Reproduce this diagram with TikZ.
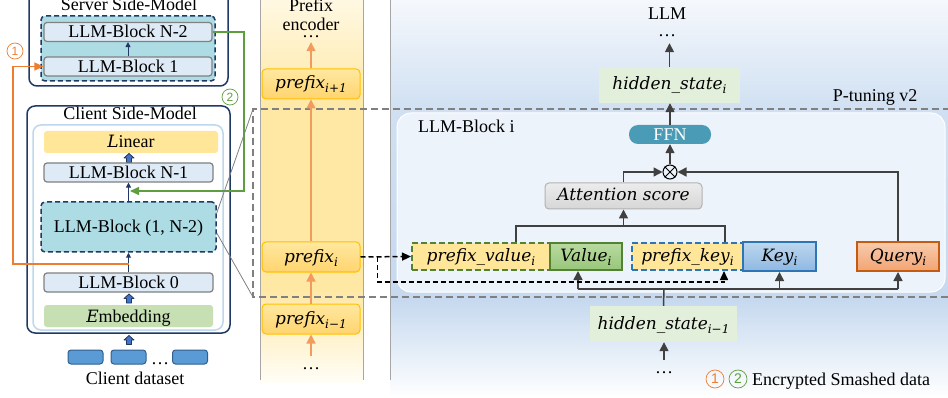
\RequirePackage{fix-cm}
\documentclass[tikz,border=0pt]{standalone}
\usepackage{fontspec}
\setmainfont{Liberation Serif}
\newfontfamily\numfont{Liberation Sans}
\newfontfamily\mitfont{DejaVu Serif}
\newcommand{\mv}[2]{{\mitfont\itshape\fontsize{17}{18}\selectfont #1\raisebox{-4pt}{\fontsize{12}{12}\selectfont #2}}}
\usetikzlibrary{arrows.meta}
\definecolor{navy}{HTML}{1F3864}
\definecolor{blkF}{HTML}{DEEBF7}
\definecolor{blkD}{HTML}{808080}
\definecolor{tealF}{HTML}{ADDCE4}
\definecolor{linF}{HTML}{FFE699}
\definecolor{embF}{HTML}{C6E0B4}
\definecolor{dataF}{HTML}{5B9BD5}
\definecolor{dataD}{HTML}{2F5F8F}
\definecolor{fatF}{HTML}{4472C4}
\definecolor{innerD}{HTML}{BDD7EE}
\definecolor{orng}{HTML}{ED7D31}
\definecolor{orlt}{HTML}{F29B5E}
\definecolor{grn}{HTML}{5E9E3F}
\definecolor{dk}{HTML}{404040}
\definecolor{pxD}{HTML}{FFC000}
\definecolor{pxT}{HTML}{FFE8A0}
\definecolor{pxB}{HTML}{FFD46E}
\definecolor{bandTop}{HTML}{FFF8E2}
\definecolor{bandMid}{HTML}{FFE8A4}
\definecolor{bandBot}{HTML}{FFFDF6}
\definecolor{rTop}{HTML}{F5F8FC}
\definecolor{rMid}{HTML}{D0E0F2}
\definecolor{rMid2}{HTML}{C6D9EF}
\definecolor{blkIF}{HTML}{EDF3FA}
\definecolor{hidF}{HTML}{E2EFDA}
\definecolor{ffnF}{HTML}{4A9BB5}
\definecolor{vgD}{HTML}{548235}
\definecolor{vgT}{HTML}{B8DAA0}
\definecolor{vgB}{HTML}{98C77A}
\definecolor{kbD}{HTML}{2E75B6}
\definecolor{kbT}{HTML}{BDD7EE}
\definecolor{kbB}{HTML}{8FB8E2}
\definecolor{qD}{HTML}{C55A11}
\definecolor{qT}{HTML}{F8CBAD}
\definecolor{qB}{HTML}{F2A472}
\definecolor{gline}{HTML}{A6A6A6}
\tikzset{
  fatarr/.pic={\draw[draw=navy, fill=fatF, line width=0.8pt, line join=round]
     (-5,0) -- (0,-4.5) -- (5,0) -- (2.5,0) -- (2.5,4.5) -- (-2.5,4.5) -- (-2.5,0) -- cycle;},
  tx/.style={text height=13pt, text depth=1pt},
  mx/.style={text height=12pt, text depth=2pt},
  outerbox/.style={draw=navy, line width=1.5pt, rounded corners=8pt},
  blk/.style={draw=blkD, line width=1.2pt, fill=blkF, rounded corners=3pt, minimum width=168pt, minimum height=19pt, inner sep=0pt, tx},
  tealbox/.style={draw=navy, dash pattern=on 5pt off 3pt, line width=1.5pt, fill=tealF, rounded corners=4pt, inner sep=0pt, tx},
  flatbox/.style={rounded corners=3pt, minimum width=169pt, minimum height=22pt, inner sep=0pt, tx},
  databox/.style={draw=dataD, fill=dataF, line width=1pt, rounded corners=3pt, minimum width=35pt, minimum height=14pt, inner sep=0pt},
  navyarr/.style={draw=navy, line width=1pt, -{Triangle[length=5pt,width=5pt]}},
  orarrow/.style={draw=orng, line width=1.5pt, -{Triangle[length=9pt,width=8pt]}},
  grarrow/.style={draw=grn, line width=1.5pt, -{Triangle[length=9pt,width=8pt]}},
  circnum/.style={circle, draw=#1, text=#1, line width=0.7pt, minimum size=16pt, inner sep=0pt, font=\numfont\fontsize{12}{12}\selectfont},
  pbox/.style={draw=pxD, line width=1pt, top color=pxT, bottom color=pxB, rounded corners=4pt, minimum width=98pt, minimum height=30pt, inner sep=0pt, mx},
  pxarr/.style={draw=orlt, line width=1.3pt, -{Triangle[length=9pt,width=9pt]}},
  dotsn/.style={inner sep=0pt, text height=13pt, text depth=6pt, anchor=base},
  bandline/.style={draw=gline, line width=1pt},
  ptdash/.style={draw=gray, line width=1.3pt, dash pattern=on 7pt off 4pt},
  callout/.style={draw=gray, line width=0.8pt},
  darr/.style={draw=dk, line width=1.5pt, -{Triangle[length=9pt,width=9pt]}},
  dline/.style={draw=dk, line width=1.5pt},
  bdash/.style={draw=black, line width=1.5pt, dash pattern=on 5pt off 3pt},
  hidbox/.style={fill=hidF, minimum width=141pt, minimum height=36pt, inner sep=0pt, mx},
  kvbox/.style={line width=2pt, minimum height=27pt, inner sep=0pt, mx},
}
\begin{document}
\begin{tikzpicture}[x=1pt, y=-1pt, font=\fontsize{18}{21}\selectfont]
\useasboundingbox (0,0) rectangle (948,398);

% ---------- right panel background ----------
\shade[top color=rTop, bottom color=rMid] (390,0) rectangle (948,110);
\shade[top color=rMid, bottom color=rMid2] (390,110) rectangle (948,300);
\shade[top color=rMid2, bottom color=white] (390,300) rectangle (948,397);
\draw[bandline] (390,0) -- (390,380);

% ---------- prefix band ----------
\shade[top color=bandTop, bottom color=bandMid] (260,0) rectangle (363,110);
\fill[bandMid] (260,110) rectangle (363,290);
\shade[top color=bandMid, bottom color=bandBot] (260,290) rectangle (363,382);
\draw[bandline] (260,0) -- (260,380);
\draw[bandline] (363,0) -- (363,380);

% ---------- P-tuning dashed region ----------
\coordinate (dTL) at (253,109);
\coordinate (dBL) at (253,297);
\draw[ptdash] (950,109) -- (dTL) -- (dBL) -- (950,297);
\node[anchor=base, inner sep=0pt] (ptT) at (875,102) {P-tuning v2};

% LLM-Block i container
\draw[draw=white, line width=1pt, fill=blkIF, rounded corners=14pt] (397,113) rectangle (945,292);
\node[anchor=base west, inner sep=0pt] (blkIT) at (418,133) {LLM-Block i};

% ---------- left: server ----------
\draw[outerbox] (29,-12) rectangle (228,86);
\node[anchor=base, inner sep=0pt] (srvT) at (129,11) {Server Side-Model};
\node[tealbox, minimum width=174pt, minimum height=65pt] (srvD) at (128,48.5) {};
\node[blk] (bN2) at (128,32) {LLM-Block N-2};
\node[blk] (b1) at (128,66.5) {LLM-Block 1};
\draw[navyarr] (b1) -- (bN2);

% ---------- left: client ----------
\draw[outerbox] (27,106) rectangle (230,333);
\node[anchor=base, inner sep=0pt] (cliT) at (130,120) {Client Side-Model};
\draw[draw=innerD, line width=1.5pt, fill=white, rounded corners=8pt] (33,125) rectangle (223,330);
\node[flatbox, fill=linF, minimum width=174pt] (lin) at (131,142) {{\mitfont\itshape\fontsize{17}{18}\selectfont L}inear};
\pic at (129,158) {fatarr};
\node[blk, minimum width=169pt] (bN1) at (128.5,172.5) {LLM-Block N-1};
\node[tealbox, minimum width=175pt, minimum height=50pt] (b1N2) at (128.5,227) {LLM-Block (1, N-2)};
\node[blk, minimum width=169pt] (b0) at (128.5,282.5) {LLM-Block 0};
\pic at (129,298.5) {fatarr};
\node[flatbox, fill=embF] (emb) at (128.5,316) {{\mitfont\itshape\fontsize{17}{18}\selectfont E}mbedding};
\pic at (129,340) {fatarr};
\draw[navyarr] (b1N2) -- (bN1);
\draw[navyarr] (b0) -- (b1N2);

\node[databox] (d1) at (85.5,357) {};
\node[databox] (d2) at (128.5,357) {};
\node[databox] (d3) at (190,357) {};
\node[dotsn] (ddots) at (160,364) {\dots};
\node[anchor=base, inner sep=0pt] (cds) at (135,384) {Client dataset};

% orange path 1
\coordinate (oS) at (128.5,264);
\coordinate (oL) at (13,264);
\draw[orarrow] (oS) -- (oL) |- (b1.west);
\node[circnum=orng] (c1) at (15,51) {1};

% green path 2
\coordinate (gR) at (244,32);
\coordinate (gE) at (130,191);
\draw[grarrow] (bN2.east) -- (gR) |- (gE);
\node[circnum=grn] (c2) at (230,97) {2};

% callout lines
\draw[callout] ([yshift=14pt]b1N2.east) -- (dTL);
\draw[callout] ([yshift=-6pt]b1N2.east) -- (dBL);

% ---------- prefix encoder ----------
\node[anchor=base, inner sep=0pt] (pT1) at (311,12) {Prefix};
\node[anchor=base, inner sep=0pt] (pT2) at (311,31) {encoder};
\node[dotsn, text height=3pt, text depth=4pt] (pdots) at (311,38) {\dots};
\node[pbox] (p1) at (311,84) {\mv{prefix}{i+1}};
\node[pbox] (p0) at (311,257) {\mv{prefix}{i}};
\node[pbox] (pm) at (311,319) {\mv{prefix}{i−1}};
\node[dotsn] (pbd) at (311,369) {\dots};
\draw[pxarr] (p1.north) -- (pdots.south);
\draw[pxarr] (p0) -- (p1);
\draw[pxarr] (pm) -- (p0);
\draw[pxarr] (pbd.north) -- (pm.south);

% ---------- right: LLM block ----------
\node[anchor=base, inner sep=0pt] (llmT) at (667,20) {LLM};
\node[dotsn, text height=4pt] (ldots) at (667,37) {\dots};
\node[hidbox] (hI) at (669.5,85) {\mv{hidden\_state}{i}};
\draw[darr] (hI.north) -- (hI.north |- ldots.south);
\node[fill=ffnF, text=white, rounded corners=9pt, minimum width=82pt, minimum height=19pt, inner sep=0pt, tx] (ffn) at (670,134.5) {FFN};
\draw[darr] (ffn.north) -- (ffn.north |- hI.south);
\node[circle, draw=black, line width=1pt, minimum size=14pt, inner sep=0pt] (ot) at (670,172) {};
\draw[line width=1pt] (ot.north west) -- (ot.south east) (ot.north east) -- (ot.south west);
\draw[darr] (ot.north) -- (ot.north |- ffn.south);

\node[draw=gray!60, line width=1pt, top color=gray!15, bottom color=gray!32, rounded corners=4pt, minimum width=157pt, minimum height=26pt, inner sep=0pt, mx] (attn) at (623.5,196) {\mv{Attention score}{}};

\node[kvbox, fill=linF, draw=vgD, dash pattern=on 6pt off 3pt, minimum width=138pt] (pv) at (481,256.5) {\mv{prefix\_value}{i}};
\node[kvbox, draw=vgD, top color=vgT, bottom color=vgB, minimum width=72pt] (val) at (586,256.5) {\mv{Value}{i}};
\node[kvbox, fill=linF, draw=kbD, dash pattern=on 6pt off 3pt, minimum width=111pt] (pk) at (687.5,256.5) {\mv{prefix\_key}{i}};
\node[kvbox, draw=kbD, top color=kbT, bottom color=kbB, minimum width=73pt, minimum height=29pt] (key) at (779.5,256.5) {\mv{Key}{i}};
\node[kvbox, draw=qD, top color=qT, bottom color=qB, minimum width=82pt, minimum height=29pt] (qry) at (898,256.5) {\mv{Query}{i}};

\draw[darr] (attn.north) |- (ot.west);
\draw[darr] (qry.north) |- (ot.east);

% attention inputs
\coordinate (aL) at ([xshift=35pt]pv.north);
\coordinate (aR) at ([xshift=37.5pt]pk.north);
\coordinate (aj) at (623.5,226);
\draw[dline] (aL) |- (aj) -| (aR);
\draw[darr] (aj) -- (attn.south);

% hidden state i-1
\node[hidbox, minimum width=147pt] (h0) at (663.5,324) {\mv{hidden\_state}{i−1}};
\node[dotsn] (bdots) at (664,373) {\dots};
\draw[darr] (bdots.north) -- (bdots.north |- h0.south);
\coordinate (hj) at (664,289);
\coordinate (vB) at ([xshift=-8pt]val.south);
\draw[dline] (h0.north) -- (hj);
\draw[dline] (vB |- hj) -- (qry.south |- hj);
\draw[darr] (vB |- hj) -- (vB);
\draw[darr] (key.south |- hj) -- (key.south);
\draw[darr] (qry.south |- hj) -- (qry.south);

% dashed prefix feed
\draw[bdash, -{Triangle[length=9pt,width=8pt]}] (p0.east) -- (pv.west);
\coordinate (dj) at ([xshift=17pt]p0.east);
\coordinate (dB) at ([yshift=-25pt]dj);
\coordinate (pkB) at ([xshift=36.5pt]pk.south);
\draw[bdash, -{Triangle[length=9pt,width=8pt]}] (dj) -- (dB) -| (pkB);

% legend
\node[circnum=orng, minimum size=18pt, font=\numfont\fontsize{14}{14}\selectfont] (lc1) at (715,379) {1};
\node[circnum=grn, minimum size=18pt, font=\numfont\fontsize{14}{14}\selectfont] (lc2) at (738,379) {2};
\node[anchor=base west, inner sep=0pt] (leg) at (752,385) {Encrypted Smashed data};
\end{tikzpicture}
\end{document}
